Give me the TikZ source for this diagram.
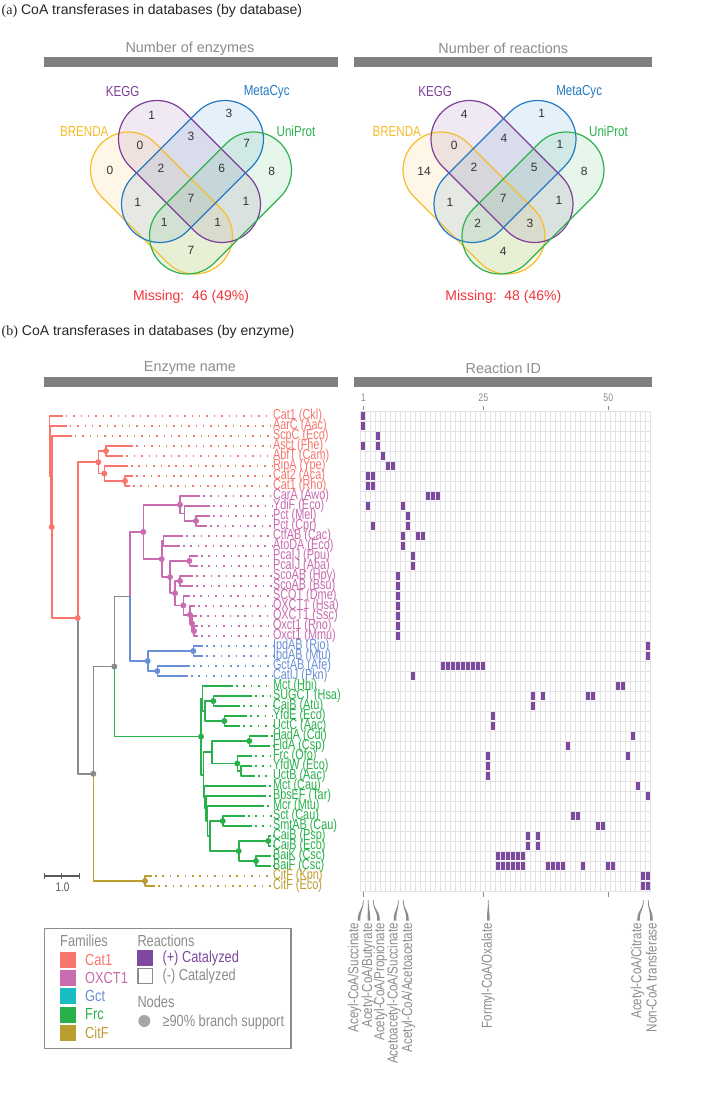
\documentclass[tikz,border=0pt]{standalone}
\usepackage{fontspec}
\setmainfont{Liberation Sans}
\newfontfamily\condf[FakeStretch=0.8]{Liberation Sans}
\newfontfamily\condt[FakeStretch=0.75]{Liberation Sans}
\newfontfamily\seriff{Liberation Serif}
\usetikzlibrary{calc}
\definecolor{catc}{HTML}{F8766D}
\definecolor{oxc}{HTML}{C86BAF}
\definecolor{gctc}{HTML}{6990D6}
\definecolor{frcc}{HTML}{28B04B}
\definecolor{citc}{HTML}{BC9E30}
\definecolor{grayc}{HTML}{8A8A8A}
\definecolor{hdr}{HTML}{7F7F7F}
\definecolor{txtg}{HTML}{8C8C8C}
\definecolor{purp}{HTML}{7D4A9F}
\definecolor{brc}{HTML}{F6BD2C}
\definecolor{kgc}{HTML}{7E3F98}
\definecolor{mcc}{HTML}{2479C4}
\definecolor{upc}{HTML}{2DB14B}
\definecolor{missc}{HTML}{F2333A}
\definecolor{gridc}{HTML}{E2E2E2}
\definecolor{gctsw}{HTML}{18BDC2}
\newcommand\capsule[6]{%
  \begin{scope}[shift={(#1,#2)}, rotate=#3]
    \fill[#6, fill opacity=0.11] ({-#4-#5},{-#5}) [rounded corners=#5pt] rectangle ({#4+#5},{#5});
  \end{scope}}
\newcommand\capline[6]{%
  \begin{scope}[shift={(#1,#2)}, rotate=#3]
    \draw[#6, line width=1.2pt] ({-#4-#5},{-#5}) [rounded corners=#5pt] rectangle ({#4+#5},{#5});
  \end{scope}}
\newcommand\rarr[3]{% name, top x, bottom x
  \fill[txtg] (#2-0.35,900) .. controls (#2-0.35,911) and (#3-1.3,909) .. (#3-1.3,920.5)
     -- (#3+1.3,920.5) .. controls (#3+1.3,909) and (#2+0.35,911) .. (#2+0.35,900) -- cycle;
  \coordinate (#1) at (#3,920.5);}
\begin{document}
\begin{tikzpicture}[x=1pt,y=-1pt,
  hdrtxt/.style={font=\fontsize{14.4}{15}\selectfont, text=txtg, inner sep=0pt},
  vlab/.style={font=\condf\fontsize{14.5}{15}\selectfont, inner sep=0pt},
  vnum/.style={font=\fontsize{12}{12}\selectfont, text=black!80, inner sep=0pt},
  miss/.style={font=\fontsize{14}{15}\selectfont, text=missc, inner sep=0pt},
  ttl/.style={font=\fontsize{14}{15}\selectfont, text=black!85, anchor=west, inner sep=0pt},
  lab/.style={font=\condt\fontsize{14.5}{14.5}\selectfont, anchor=west, inner sep=0pt},
  leg/.style={font=\condf\fontsize{16}{16}\selectfont, anchor=west, inner sep=0pt},
  rlab/.style={font=\condf\fontsize{14.5}{14.5}\selectfont, text=txtg, rotate=90, anchor=east, inner sep=0pt},
  axn/.style={font=\condf\fontsize{11}{11}\selectfont, text=txtg, inner sep=0pt},
  br/.style={line width=1.6pt, line join=round},
  dotl/.style={line width=1.5pt, dash pattern=on 1.5pt off 5.9pt},
  hbar/.style={fill=hdr},
  tick/.style={draw=txtg, line width=1.3pt}]
\useasboundingbox (0,0) rectangle (709,1111);
\fill[white] (0,0) rectangle (709,1111);

% ---------- titles ----------
\node[ttl] (ta) at (1.5,11) {{\seriff (a)} CoA transferases in databases (by database)};
\node[ttl] (tb) at (1.5,332) {{\seriff (b)} CoA transferases in databases (by enzyme)};

\node[hdrtxt] (h1) at (190,48.5) {Number of enzymes};
\fill[hbar] (43.5,57.3) rectangle (337.5,67.3);
\node[hdrtxt] (h2) at (503.3,48.5) {Number of reactions};
\fill[hbar] (354,57.3) rectangle (652,67.3);
\node[hdrtxt] (h3) at (190,368.5) {Enzyme name};
\fill[hbar] (43.5,377.3) rectangle (337.5,387.3);
\node[hdrtxt] (h4) at (503.3,368.5) {Reaction ID};
\fill[hbar] (354,377.3) rectangle (652,387.3);

% ---------- Venn diagrams ----------
\foreach \dx in {0,312.5}{
  \capsule{161.5+\dx}{203}{-45}{46.67}{38}{brc}
  \capsule{189.5+\dx}{171.5}{-45}{45.96}{38.5}{kgc}
  \capsule{192.5+\dx}{171.5}{45}{45.96}{38.5}{mcc}
  \capsule{220.5+\dx}{203}{45}{46.67}{38}{upc}
  \capline{161.5+\dx}{203}{-45}{46.67}{38}{brc}
  \capline{189.5+\dx}{171.5}{-45}{45.96}{38.5}{kgc}
  \capline{192.5+\dx}{171.5}{45}{45.96}{38.5}{mcc}
  \capline{220.5+\dx}{203}{45}{46.67}{38}{upc}
}
\node[vlab, text=kgc] (k1) at (122.7,91.7) {KEGG};
\node[vlab, text=mcc] (m1) at (266.7,91.7) {MetaCyc};
\node[vlab, text=brc] (b1l) at (84.3,131.7) {BRENDA};
\node[vlab, text=upc] (u1) at (296,131.7) {UniProt};
\node[vlab, text=kgc] (k2) at (435.2,91.7) {KEGG};
\node[vlab, text=mcc] (m2) at (579.2,91.7) {MetaCyc};
\node[vlab, text=brc] (b2l) at (396.8,131.7) {BRENDA};
\node[vlab, text=upc] (u2) at (608.5,131.7) {UniProt};
\foreach \i/\x/\y/\v in {1/151.7/115/1, 2/229/113.3/3, 3/110/170.7/0, 4/271.7/171.7/8, 5/140/145/0,
  6/191/136.7/3, 7/246.7/143.3/7, 8/161/168.3/2, 9/221.7/168.3/6, 10/137.7/202.7/1, 11/246/201.7/1,
  12/191/198.3/7, 13/164.3/222.7/1, 14/217.7/222.7/1, 15/191/250.7/7,
  16/464.3/114.3/4, 17/541.7/113.3/1, 18/424/171.7/14, 19/584.3/171.7/8, 20/454.3/145/0,
  21/504/138.3/4, 22/560/144/1, 23/474/167.7/2, 24/534.3/167.7/5, 25/450/202.7/1, 26/559/200.7/1,
  27/503.3/198.3/7, 28/477.7/223.3/2, 29/530/223.3/3, 30/503.3/251.7/4}
  {\node[vnum] (vn\i) at (\x,\y) {\v};}
\node[miss] (ms1) at (191,297) {Missing:\ \ 46 (49\%)};
\node[miss] (ms2) at (503.3,297) {Missing:\ \ 48 (46\%)};

% ---------- reaction grid ----------
\foreach \i in {0,...,58} \draw[gridc, line width=0.8pt] ({360.8+5*\i},411) -- ({360.8+5*\i},891);
\foreach \j in {0,...,48} \draw[gridc, line width=0.8pt] (360.8,{411+10*\j}) -- (650.8,{411+10*\j});
\foreach \r/\cs in {1/{1},2/{1},3/{4},4/{1,4},5/{5},6/{6,7},7/{2,3},8/{2,3},9/{14,15,16},10/{2,9},
  11/{10},12/{3,10},13/{9,12,13},14/{9},15/{11},16/{11},17/{8},18/{8},19/{8},20/{8},21/{8},22/{8},23/{8},
  24/{58},25/{58},26/{17,18,19,20,21,22,23,24,25},27/{11},28/{52,53},29/{35,37,46,47},30/{35},31/{27},32/{27},
  33/{55},34/{42},35/{26,54},36/{26},37/{26},38/{56},39/{58},41/{43,44},42/{48,49},43/{34,36},44/{34,36},
  45/{28,29,30,31,32,33},46/{28,29,30,31,32,33,38,39,40,41,45,50,51},47/{57,58},48/{57,58}}
  {\foreach \c in \cs {\fill[purp] ({361.4+5*(\c-1)},{411.6+10*(\r-1)}) rectangle ++(3.8,8.8);}}
\foreach \c/\t in {1/1,25/25,50/50}{
  \draw[tick] ({363.3+5*(\c-1)},405.5) -- ({363.3+5*(\c-1)},409.5);
  \draw[tick] ({363.3+5*(\c-1)},892) -- ({363.3+5*(\c-1)},896.5);
  \node[axn] (ax\c) at ({363.3+5*(\c-1)},397.5) {\t};
}
% bottom reaction labels
\node[rlab] (r1) at (354.5,923) {Aceyl-CoA/Succinate};
\node[rlab] (r2) at (368.3,923) {Acetyl-CoA/Butyrate};
\node[rlab] (r3) at (380.5,923) {Acetyl-CoA/Propionate};
\node[rlab] (r8) at (393.8,923) {Acetoacetyl-CoA/Succinate};
\node[rlab] (r9) at (408.3,923) {Acetyl-CoA/Acetoacetate};
\node[rlab] (r26) at (488,923) {Formyl-CoA/Oxalate};
\node[rlab] (r57) at (637.5,923) {Acetyl-CoA/Citrate};
\node[rlab] (r58) at (651.5,923) {Non-CoA transferase};
\rarr{a1r}{363.3}{359}
\rarr{a2r}{368.3}{369}
\rarr{a3r}{373.3}{378.5}
\rarr{a8r}{398.3}{395}
\rarr{a9r}{403.3}{407.5}
\rarr{a26r}{488.3}{488.3}
\rarr{a57r}{643.3}{638.5}
\rarr{a58r}{648.3}{651.5}

% ---------- tree leaves ----------
\foreach \r/\tx/\nm/\cl in {1/62.7/Cat1 (Ckl)/catc, 2/66.7/AarC (Aac)/catc, 3/71.7/ScpC (Eco)/catc,
  4/133.3/Asct (Fhe)/catc, 5/123.3/AbfT (Cam)/catc, 6/128/RipA (Ype)/catc, 7/133/Cat2 (Aca)/catc,
  8/130/Cat1 (Rho)/catc, 9/200/CarA (Awo)/oxc, 10/210/YdiF (Eco)/oxc, 11/210/Pct (Mel)/oxc,
  12/207/Pct (Cpr)/oxc, 13/183/CtfAB (Cac)/oxc, 14/180/AtoDA (Eco)/oxc, 15/198/PcaIJ (Ppu)/oxc,
  16/198/PcaIJ (Aba)/oxc, 17/193/ScoAB (Hpy)/oxc, 18/193/ScoAB (Bsu)/oxc, 19/190/SCOT (Dme)/oxc,
  20/195/OXCT1 (Hsa)/oxc, 21/197/OXCT1 (Ssc)/oxc, 22/198/Oxct1 (Rno)/oxc, 23/198/Oxct1 (Mmu)/oxc,
  24/203/IpdAB (Rjo)/gctc, 25/203/IpdAB (Mtu)/gctc, 26/190/GctAB (Afe)/gctc, 27/188/CatIJ (Pkn)/gctc,
  28/233/Mct (Hhi)/frcc, 29/252/SUGCT (Hsa)/frcc, 30/240/CaiB (Atu)/frcc, 31/247/YfdE (Eco)/frcc,
  32/240/UctC (Aac)/frcc, 33/268/HadA (Cdi)/frcc, 34/270/FldA (Csp)/frcc, 35/252/Frc (Ofo)/frcc,
  36/252/YfdW (Eco)/frcc, 37/255/UctB (Aac)/frcc, 38/266/Mct (Cau)/frcc, 39/266/BbsEF (Tar)/frcc,
  40/264/Mcr (Mtu)/frcc, 41/245/Sct (Cau)/frcc, 42/252/SmtAB (Cau)/frcc, 43/271/CaiB (Psp)/frcc,
  44/271/CaiB (Eco)/frcc, 45/271/BaiK (Csc)/frcc, 46/271/BaiF (Csc)/frcc, 47/152/CitF (Kpn)/citc,
  48/155/CitF (Eco)/citc}
{
  \coordinate (t\r) at (\tx,{416+10*(\r-1)});
  \node[lab, text=\cl] (lab\r) at (272.8,{416+10*(\r-1)}) {\nm};
  \draw[dotl, draw=\cl] ($(t\r)+(3,0)$) -- (lab\r.west);
}
% ---------- internal nodes ----------
\foreach \n/\x/\y in {nA/49.3/446.25, nB/50.5/476.5, nC/51.7/527, nD/77.7/618, nE/98.3/462.25,
  nG/106/451, nH/104.3/473.5, nI/125/481, nF/93.3/773.8, nGR/114.3/666.5, cit/145/881,
  nOG/130/596.45, nM/143.3/531.9, nJ/180/504.75, nL/184.3/513.5, nPct/196/521, nK/161.7/559.05,
  nN/163.5/541, nO/170/577.1, nP/189.3/561, nQ/175/593.2, nR/180/581, nS/183.3/605.4,
  nT/190/614.75, nU/192/623.5, nV/194/631, nW/147.7/661, nX/193.3/651, nY/157.3/671,
  Z/201/736.6, a0/202.5/698.5, a12/205/711, a1/213.3/701, a2/224.3/721, b0/203.5/774.75,
  b1/212/752.25, h/249.3/741, f/237.3/763.5, f1/241/771, e3/204.5/797.25, e2/206/808.5,
  e1/207.5/821, cd/210/836, c1/222.7/821, d12/238.7/851, d1/268.3/841, d2/256/861}
  {\coordinate (\n) at (\x,\y);}
% ---------- branches ----------
\foreach \p/\c/\cl in {nA/t1/catc, nA/nB/catc, nB/t2/catc, nB/nC/catc, nC/t3/catc, nC/nD/catc,
  nD/nE/catc, nE/nG/catc, nG/t4/catc, nG/t5/catc, nE/nH/catc, nH/t6/catc, nH/nI/catc, nI/t7/catc,
  nI/t8/catc, nD/nF/grayc, nF/nGR/grayc, nGR/nOG/grayc, nF/cit/citc, cit/t47/citc, cit/t48/citc,
  nGR/Z/frcc, nOG/nM/oxc, nOG/nW/gctc,
  nM/nJ/oxc, nJ/t9/oxc, nJ/nL/oxc, nL/t10/oxc, nL/nPct/oxc, nPct/t11/oxc, nPct/t12/oxc,
  nM/nK/oxc, nK/nN/oxc, nN/t13/oxc, nN/t14/oxc, nK/nO/oxc, nO/nP/oxc, nP/t15/oxc, nP/t16/oxc,
  nO/nQ/oxc, nQ/nR/oxc, nR/t17/oxc, nR/t18/oxc, nQ/nS/oxc, nS/t19/oxc, nS/nT/oxc, nT/t20/oxc,
  nT/nU/oxc, nU/t21/oxc, nU/nV/oxc, nV/t22/oxc, nV/t23/oxc,
  nW/nX/gctc, nX/t24/gctc, nX/t25/gctc, nW/nY/gctc, nY/t26/gctc, nY/t27/gctc,
  Z/a0/frcc, a0/t28/frcc, a0/a12/frcc, a12/a1/frcc, a1/t29/frcc, a1/t30/frcc, a12/a2/frcc,
  a2/t31/frcc, a2/t32/frcc, Z/b0/frcc, b0/b1/frcc, b1/h/frcc, h/t33/frcc, h/t34/frcc, b1/f/frcc,
  f/t35/frcc, f/f1/frcc, f1/t36/frcc, f1/t37/frcc, b0/e3/frcc, e3/t38/frcc, e3/e2/frcc,
  e2/t39/frcc, e2/e1/frcc, e1/t40/frcc, e1/cd/frcc, cd/c1/frcc, c1/t41/frcc, c1/t42/frcc,
  cd/d12/frcc, d12/d1/frcc, d1/t43/frcc, d1/t44/frcc, d12/d2/frcc, d2/t45/frcc, d2/t46/frcc}
  {\draw[br, draw=\cl] (\p) |- (\c);}
\foreach \n/\cl in {nC/catc, nD/catc, nE/catc, nG/catc, nH/catc, nI/catc, nF/grayc, nGR/grayc,
  cit/citc, nM/oxc, nJ/oxc, nPct/oxc, nK/oxc, nO/oxc, nP/oxc, nQ/oxc, nR/oxc, nS/oxc, nT/oxc,
  nU/oxc, nV/oxc, nW/gctc, nX/gctc, nY/gctc, Z/frcc, a1/frcc, a2/frcc, h/frcc, f/frcc, c1/frcc,
  d1/frcc, d2/frcc, d12/frcc}
  {\fill[\cl] (\n) circle[radius=3pt];}
% scale bar
\coordinate (sb1) at (44.3,876); \coordinate (sb2) at (79.3,876);
\draw[black!65, line width=1.1pt] (sb1) -- (sb2);
\foreach \x in {44.3,61.8,79.3} \draw[black!65, line width=1.1pt] (\x,873) -- (\x,879);
\node[font=\condf\fontsize{12.5}{12.5}\selectfont, text=black!65, inner sep=0pt] (sbl) at (62.5,887) {1.0};

% ---------- legend ----------
\draw[draw=txtg, line width=1.3pt] (44.3,928.3) rectangle (291,1048.3);
\node[leg, text=txtg] (lf) at (60,941) {Families};
\foreach \i/\y/\sw/\tc/\nm in {1/959.5/catc/catc/Cat1, 2/977.8/oxc/oxc/OXCT1, 3/996.2/gctsw/gctc/Gct,
  4/1014.5/frcc/frcc/Frc, 5/1032.8/citc/citc/CitF}
  {\fill[\sw] (60,\y-8) rectangle (76,\y+8);
   \node[leg, text=\tc] (lg\i) at (85,\y) {\nm};}
\node[leg, text=txtg] (lr) at (137.3,941) {Reactions};
\fill[purp] (137.3,950) rectangle (153.3,966);
\node[leg, text=purp] (lp) at (162.3,958) {(+) Catalyzed};
\draw[txtg, line width=1.3pt] (138,968.8) rectangle (152.6,983.6);
\node[leg, text=txtg] (lm) at (162.3,976.5) {(-) Catalyzed};
\node[leg, text=txtg] (ln) at (137.3,1002) {Nodes};
\fill[black!35] (144.3,1021) circle[radius=6pt];
\node[leg, text=txtg] (lb) at (162.3,1022) {≥90\% branch support};
\end{tikzpicture}
\end{document}
